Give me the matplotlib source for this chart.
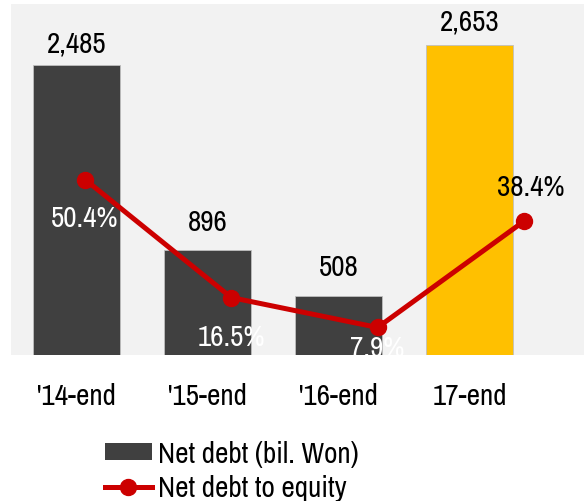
import matplotlib
matplotlib.use("Agg")
import matplotlib.pyplot as plt
from matplotlib.patches import Patch
from matplotlib.lines import Line2D
from matplotlib import font_manager

categories = ["'14-end", "'15-end", "'16-end", "17-end"]
net_debt = [2485, 896, 508, 2653]
net_debt_labels = ["2,485", "896", "508", "2,653"]
debt_to_equity = [50.4, 16.5, 7.9, 38.4]
ratio_labels = ["50.4%", "16.5%", "7.9%", "38.4%"]

bar_colors = ["#404040", "#404040", "#404040", "#FFC000"]
ratio_text_colors = ["white", "white", "white", "black"]
ratio_offsets = [(0, -38), (0, -39), (0, -20), (7, 35)]   # px
value_offsets = [22, 29, 29, 24]                          # px above bar top

names = {f.name for f in font_manager.fontManager.ttflist}
fam = "Liberation Sans"
for cand in ["Liberation Sans Narrow", "Arimo Narrow", "Archivo Narrow", "Roboto Condensed",
             "PT Sans Narrow", "Open Sans Condensed", "Barlow Semi Condensed"]:
    if cand in names:
        fam = cand
        break
plt.rcParams["font.family"] = [fam, "DejaVu Sans"]

W, H = 584, 502
fig = plt.figure(figsize=(W / 100, H / 100), dpi=100)
L, R, B, T = 11, 584, 356, 5
rect = [L / W, 1 - B / H, (R - L) / W, (B - T) / H]
ax = fig.add_axes(rect)
ax.set_facecolor("#F2F2F2")
x = list(range(len(categories)))
ax.bar(x, net_debt, width=0.67, color=bar_colors, edgecolor="#BFBFBF", linewidth=0.6, zorder=2)
ax.set_xlim(-0.5, 3.874)
ax.set_ylim(0, 3008)
ax.set_xticks(x)
fs = 21
ax.set_xticklabels(categories, fontsize=fs)
ax.tick_params(axis="x", length=0, pad=19.5)
ax.set_yticks([])
for s in ax.spines.values():
    s.set_visible(False)

for i, v in enumerate(net_debt):
    ax.annotate(net_debt_labels[i], (i, v), xytext=(0, value_offsets[i] * 0.72),
                textcoords="offset points", ha="center", va="center", fontsize=fs, color="black")

ax2 = fig.add_axes(rect, frameon=False)
ax2.patch.set_visible(False)
ax2.set_xlim(-0.506, 3.411)
ax2.set_ylim(0, 100.8)
ax2.plot(x, debt_to_equity, color="#CC0000", linewidth=3.6, marker="o", markersize=11.5, zorder=3)
ax2.set_xticks([])
ax2.set_yticks([])
for i, v in enumerate(debt_to_equity):
    dx, dy = ratio_offsets[i]
    t = ax2.annotate(ratio_labels[i], (i, v), xytext=(dx * 0.72, dy * 0.72),
                     textcoords="offset points", ha="center", va="center", fontsize=fs,
                     color=ratio_text_colors[i])
    t.set_clip_on(True)
    t.set_clip_box(ax2.bbox)

handles = [Patch(facecolor="#404040", edgecolor="none"),
           Line2D([0], [0], color="#CC0000", linewidth=3.6, marker="o", markersize=11.5)]
fig.legend(handles, ["Net debt (bil. Won)", "Net debt to equity"], loc="upper left",
           bbox_to_anchor=(105 / W, 1 - 441 / H), frameon=False, fontsize=fs,
           handlelength=1.6, handleheight=0.55, handletextpad=0.2, labelspacing=0.25,
           borderaxespad=0, borderpad=0)

fig.savefig("out.png", dpi=100)
